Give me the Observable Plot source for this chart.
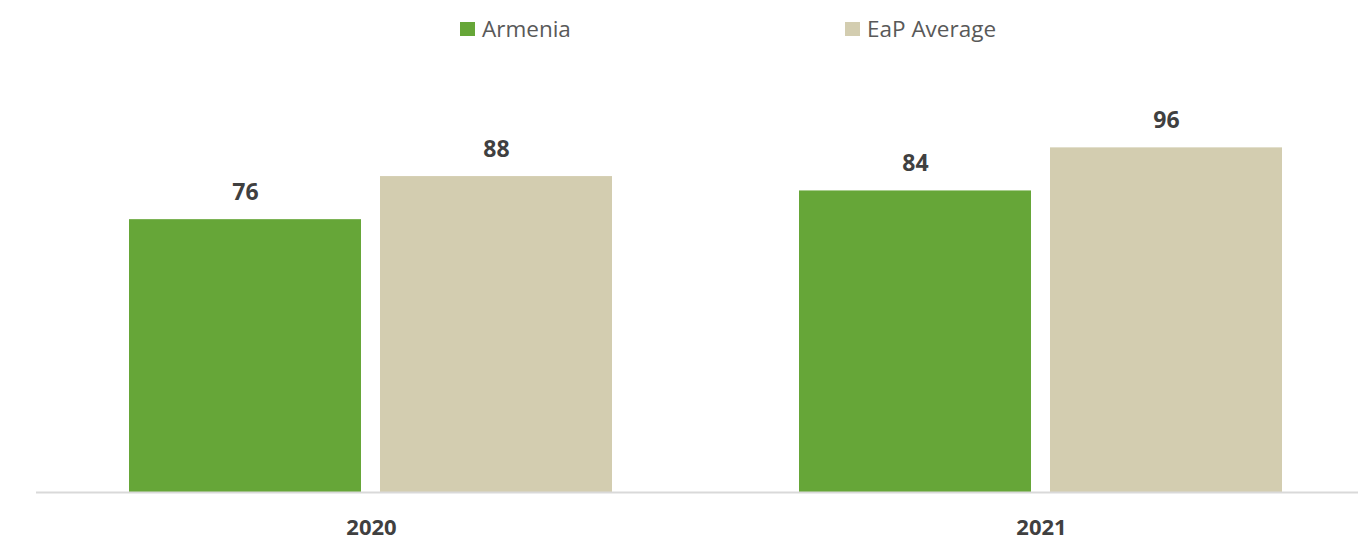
<!DOCTYPE html>
<html>
<head>
<meta charset="utf-8">
<script src="https://cdn.jsdelivr.net/npm/d3@7"></script>
<script src="https://cdn.jsdelivr.net/npm/@observablehq/plot@0.6"></script>
<style>
  html, body { margin: 0; padding: 0; background: #fff; }
  body { width: 1358px; height: 541px; overflow: hidden; font-family: "Open Sans", sans-serif; }
  #legend { position: relative; height: 58px; }
  .item { position: absolute; top: 13px; display: flex; align-items: center; font-size: 22.5px; color: #595959; }
  .sw { width: 15px; height: 14px; margin-right: 7px; }
</style>
</head>
<body>
<div id="legend"></div>
<div id="chart"></div>
<script>
const years = ["2020", "2021"];
const series = ["Armenia", "EaP Average"];
const armenia = [76, 84];
const eapAverage = [88, 96];
const colors = ["#66a638", "#d3cdb0"];

const data = [];
years.forEach((y, i) => {
  data.push({year: y, series: series[0], value: armenia[i]});
  data.push({year: y, series: series[1], value: eapAverage[i]});
});

const legend = document.getElementById("legend");
const legendX = [460, 845];
series.forEach((s, i) => {
  const d = document.createElement("div");
  d.className = "item";
  d.style.left = legendX[i] + "px";
  d.innerHTML = `<span class="sw" style="background:${colors[i]}"></span><span>${s}</span>`;
  legend.appendChild(d);
});

const chart = Plot.plot({
  width: 1358,
  height: 483,
  marginLeft: 36,
  marginRight: -18,
  marginTop: 75,
  marginBottom: 49,
  style: {fontFamily: "Open Sans, sans-serif", background: "#fff"},
  fx: {domain: years, padding: 0, label: null, axis: "bottom", tickSize: 0, tickPadding: 27},
  x: {domain: series, paddingInner: 0.0755, paddingOuter: 0.369, axis: null},
  y: {domain: [0, 100], axis: null},
  color: {domain: series, range: colors},
  marks: [
    Plot.barY(data, {fx: "year", x: "series", y: "value", fill: "series"}),
    Plot.ruleY([0], {stroke: "#d9d9d9", strokeWidth: 2}),
    Plot.text(data, {fx: "year", x: "series", y: "value", text: d => String(d.value), dy: -27, fill: "#404040", fontSize: 23, fontWeight: "bold"})
  ]
});
chart.querySelectorAll("g[aria-label='fx-axis tick label']").forEach(g => {
  g.setAttribute("font-size", 22);
  g.setAttribute("font-weight", "bold");
  g.setAttribute("fill", "#404040");
});
document.getElementById("chart").appendChild(chart);
</script>
</body>
</html>
